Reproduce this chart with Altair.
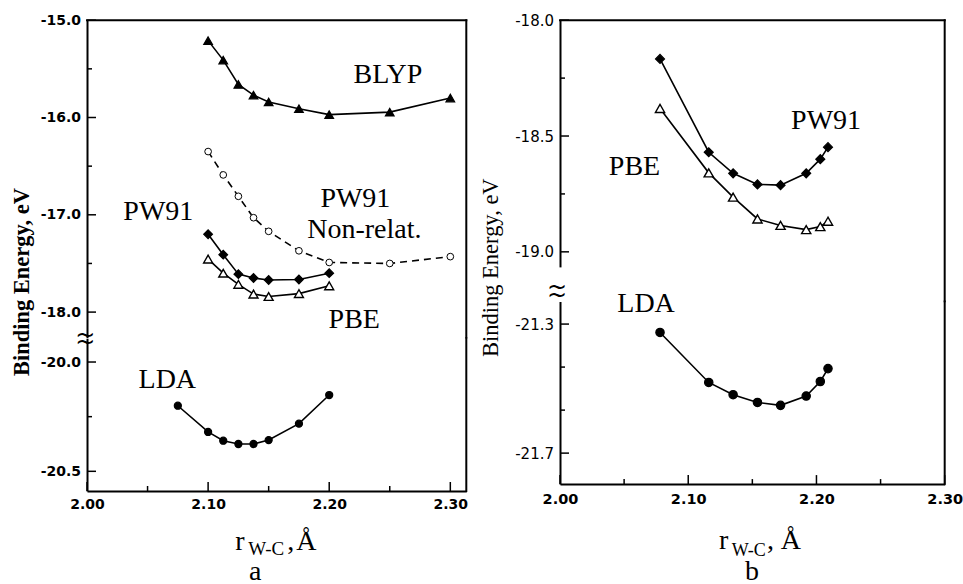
import altair as alt
import pandas as pd

# ---------------- data : panel a ----------------
xa = [2.100, 2.1125, 2.125, 2.1375, 2.150, 2.175, 2.200, 2.250, 2.300]
blyp_a = [-15.21, -15.41, -15.66, -15.77, -15.84, -15.91, -15.97, -15.945, -15.80]
pw91nr_a = [-16.35, -16.59, -16.81, -17.03, -17.17, -17.37, -17.49, -17.50, -17.43]
xa_short = [2.100, 2.1125, 2.125, 2.1375, 2.150, 2.175, 2.200]
pw91_a = [-17.20, -17.41, -17.61, -17.65, -17.67, -17.665, -17.60]
pbe_a = [-17.455, -17.60, -17.715, -17.815, -17.84, -17.81, -17.73]
xa_lda = [2.075, 2.100, 2.1125, 2.125, 2.1375, 2.150, 2.175, 2.200]
lda_a = [-20.20, -20.32, -20.36, -20.375, -20.375, -20.357, -20.282, -20.151]

# ---------------- data : panel b ----------------
xb = [2.078, 2.116, 2.135, 2.154, 2.172, 2.192, 2.203, 2.209]
pw91_b = [-18.167, -18.570, -18.661, -18.709, -18.712, -18.661, -18.600, -18.548]
pbe_b = [-18.381, -18.659, -18.764, -18.858, -18.886, -18.904, -18.891, -18.868]
lda_b = [-21.326, -21.481, -21.519, -21.543, -21.552, -21.523, -21.478, -21.438]

# ---------------- ticks ----------------
x_major = [2.00, 2.10, 2.20, 2.30]
x_minor = [2.05, 2.15, 2.25]
ya_top_major = [-15.0, -16.0, -17.0, -18.0]
ya_top_minor = [-15.5, -16.5, -17.5]
ya_bot_major = [-20.0, -20.5]
ya_bot_minor = [-20.25]
yb_top_major = [-18.0, -18.5, -19.0]
yb_top_minor = [-18.25, -18.75]
yb_bot_major = [-21.3, -21.7]
yb_bot_minor = [-21.4333, -21.5667]

# ---------------- annotation labels ----------------
ann_a_top_text = ["BLYP", "PW91", "PW91", "Non-relat.", "PBE"]
ann_a_top_x = [2.2484, 2.0589, 2.2216, 2.2290, 2.2207]
ann_a_top_y = [-15.568, -16.976, -16.833, -17.161, -18.081]
ann_a_bot_text = ["LDA"]
ann_a_bot_x = [2.0663]
ann_a_bot_y = [-20.082]
ann_b_top_text = ["PW91", "PBE"]
ann_b_top_x = [2.2075, 2.0581]
ann_b_top_y = [-18.434, -18.634]
ann_b_bot_text = ["LDA"]
ann_b_bot_x = [2.0671]
ann_b_bot_y = [-21.238]

y_title = "Binding Energy, eV"
x_title_r = "r"
x_title_sub = "W-C"
x_title_comma = ","
x_title_unit = "Å"
panel_names = ["a", "b"]
break_glyph = "~"

SERIF = "Liberation Serif"
SANS = "DejaVu Sans"


def one_row():
    return pd.DataFrame({"k": [0]})


def segment(w, h, xdom, ydom, series, y_major, y_minor, ylab_size, ylab_weight,
            show_x, xlab_size, xlab_pad, annots, pix_texts, rules):
    xs = alt.Scale(domain=xdom, nice=False, zero=False)
    ys = alt.Scale(domain=ydom, nice=False, zero=False)
    if show_x:
        xaxis = alt.Axis(values=x_major, format=".2f", ticks=False, tickSize=0, grid=False,
                         domain=True, domainColor="black", domainWidth=2,
                         labelFont=SANS, labelFontSize=xlab_size, labelFontWeight="bold",
                         labelColor="black", labelPadding=xlab_pad, labelFlush=False,
                         labelOverlap=False, title=None)
    else:
        xaxis = None
    yaxis = alt.Axis(values=y_major, ticks=False, tickSize=0, grid=False,
                     domain=True, domainColor="black", domainWidth=2,
                     labelExpr="(datum.value < 0 ? '-' : '') + format(abs(datum.value), '.1f')",
                     labelFont=SANS, labelFontSize=ylab_size, labelFontWeight=ylab_weight,
                     labelColor="black", labelPadding=6.5, labelFlush=False,
                     labelOverlap=False, title=None)

    def X():
        return alt.X("x:Q", scale=xs, axis=xaxis)

    def Y():
        return alt.Y("y:Q", scale=ys, axis=yaxis)

    layers = []
    for s in series:
        df = pd.DataFrame({"x": s["x"], "y": s["y"]})
        lk = dict(color="black", strokeWidth=1.6)
        if s.get("dash"):
            lk["strokeDash"] = s["dash"]
        layers.append(alt.Chart(df).mark_line(**lk).encode(x=X(), y=Y()))
    for s in series:
        df = pd.DataFrame({"x": s["x"], "y": s["y"]})
        layers.append(alt.Chart(df).mark_point(
            shape=s["shape"], filled=True, fill=s["fill"], stroke="black",
            strokeWidth=s["sw"], size=s["size"], opacity=1).encode(x=X(), y=Y()))
    # inward y ticks
    for vals, L in ((y_major, 9), (y_minor, 5)):
        df = pd.DataFrame({"y": vals})
        layers.append(alt.Chart(df).mark_rule(color="black", strokeWidth=1.5).encode(
            y=Y(), x=alt.value(0), x2=alt.value(L)))
    if show_x:
        for vals, L in ((x_major, 9), (x_minor, 5)):
            df = pd.DataFrame({"x": vals})
            layers.append(alt.Chart(df).mark_rule(color="black", strokeWidth=1.5).encode(
                x=X(), y=alt.value(h), y2=alt.value(h - L)))
    # frame rules
    for (x1, x2, y1, y2) in rules:
        layers.append(alt.Chart(one_row()).mark_rule(
            color="black", strokeWidth=2, strokeCap="square").encode(
            x=alt.value(x1), x2=alt.value(x2), y=alt.value(y1), y2=alt.value(y2)))
    # annotations in data coordinates
    if annots:
        t, ax, ay = annots
        df = pd.DataFrame({"x": ax, "y": ay, "text": t})
        layers.append(alt.Chart(df).mark_text(
            font=SERIF, fontSize=28, color="black", align="center", baseline="middle").encode(
            x=X(), y=Y(), text="text:N"))
    # free texts (titles, break marks)
    for pt in pix_texts:
        kw = dict(text=pt["text"], font=pt.get("font", SERIF), fontSize=pt["size"],
                  color="black", align=pt.get("align", "left"),
                  baseline=pt.get("baseline", "alphabetic"))
        if pt.get("weight"):
            kw["fontWeight"] = pt["weight"]
        if pt.get("angle"):
            kw["angle"] = pt["angle"]
        layers.append(alt.Chart(one_row()).mark_text(**kw).encode(
            x=alt.value(pt["x"]), y=alt.value(pt["y"])))
    return alt.layer(*layers).properties(width=w, height=h)


def S(x, y, shape, fill, size, sw=1.2, dash=None):
    d = dict(x=x, y=y, shape=shape, fill=fill, size=size, sw=sw)
    if dash:
        d["dash"] = dash
    return d


# ---------------- panel a ----------------
WA = 379.3
HA_TOP, HA_BOT = 317.2, 152.8
xdom_a = [2.0, 2.3132]

upper_a = segment(
    WA, HA_TOP, xdom_a, [-18.26, -15.0],
    [S(xa, blyp_a, "triangle-up", "black", 75),
     S(xa, pw91nr_a, "circle", "white", 45, sw=1.0, dash=[7, 5]),
     S(xa_short, pw91_a, "diamond", "black", 75),
     S(xa_short, pbe_a, "triangle-up", "white", 80, sw=1.4)],
    ya_top_major, ya_top_minor, 14, "bold", False, 14, 7,
    (ann_a_top_text, ann_a_top_x, ann_a_top_y),
    [dict(text=y_title, x=-64.7, y=261.8, size=22.5, weight="bold", angle=270,
          align="center", baseline="middle")],
    [(0, WA, 0, 0), (WA, WA, 0, HA_TOP)])

lower_a = segment(
    WA, HA_BOT, xdom_a, [-20.59, -19.891],
    [S(xa_lda, lda_a, "circle", "black", 50)],
    ya_bot_major, ya_bot_minor, 14, "bold", True, 14, 7,
    (ann_a_bot_text, ann_a_bot_x, ann_a_bot_y),
    [dict(text=x_title_r, x=148.3, y=212.1, size=28),
     dict(text=x_title_sub, x=161.3, y=217.1, size=19),
     dict(text=x_title_comma, x=200.3, y=212.1, size=28),
     dict(text=x_title_unit, x=209.3, y=212.1, size=28),
     dict(text=panel_names[0], x=168.3, y=242.3, size=28, align="center"),
     dict(text=break_glyph, x=-1.7, y=-2.4, size=24, font=SANS, align="center", baseline="middle"),
     dict(text=break_glyph, x=-1.7, y=5.1, size=24, font=SANS, align="center", baseline="middle")],
    [(WA, WA, 0, HA_BOT)])

panel_a = alt.vconcat(upper_a, lower_a, spacing=0, bounds="flush")

# ---------------- panel b ----------------
WB = 384.7
HB_TOP, HB_BOT = 246.7, 182.6
GAP_B = 34.3
xdom_b = [2.0, 2.30]

upper_b = segment(
    WB, HB_TOP, xdom_b, [-19.065, -18.0],
    [S(xb, pw91_b, "diamond", "black", 80),
     S(xb, pbe_b, "triangle-up", "white", 85, sw=1.4)],
    yb_top_major, yb_top_minor, 15, "normal", False, 14.5, 8,
    (ann_b_top_text, ann_b_top_x, ann_b_top_y),
    [dict(text=y_title, x=-69.4, y=247.5, size=22.5, angle=270,
          align="center", baseline="middle")],
    [(0, WB, 0, 0), (WB, WB, 0, HB_TOP + GAP_B)])

lower_b = segment(
    WB, HB_BOT, xdom_b, [-21.796, -21.23],
    [S(xb, lda_b, "circle", "black", 70)],
    yb_bot_major, yb_bot_minor, 15, "normal", True, 14.5, 8,
    (ann_b_bot_text, ann_b_bot_x, ann_b_bot_y),
    [dict(text=x_title_r, x=159, y=247.3, size=28),
     dict(text=x_title_sub, x=171.7, y=254.3, size=18),
     dict(text=x_title_comma, x=207, y=247.3, size=28),
     dict(text=x_title_unit, x=220.7, y=247.3, size=28),
     dict(text=panel_names[1], x=192, y=278.5, size=28, align="center"),
     dict(text=break_glyph, x=-3, y=-13.7, size=24, font=SANS, align="center", baseline="middle"),
     dict(text=break_glyph, x=-3, y=-5.7, size=24, font=SANS, align="center", baseline="middle")],
    [(WB, WB, 0, HB_BOT)])

panel_b = alt.vconcat(upper_b, lower_b, spacing=GAP_B, bounds="flush")

chart = alt.hconcat(panel_a, panel_b, spacing=11).properties(
    padding={"left": 11, "top": 13.2, "right": 0, "bottom": 8},
    background="white",
).configure_view(strokeWidth=0)

chart.save("out.html", embed_options={"renderer": "svg", "actions": False})
